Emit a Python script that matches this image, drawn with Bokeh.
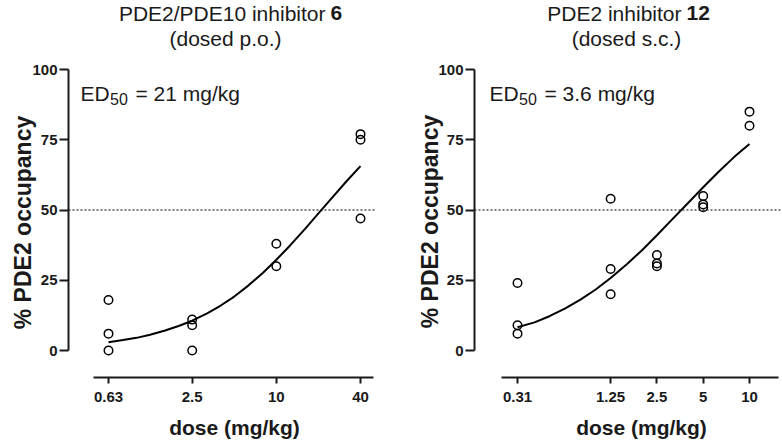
import math
from bokeh.plotting import figure
from bokeh.models import Label, FixedTicker, Range1d
from bokeh.layouts import row
from bokeh.embed import file_html
from bokeh.resources import INLINE

# ---------------- data ----------------
occ_ticks = [0, 25, 50, 75, 100]
half_occupancy = 50

# Left panel: PDE2/PDE10 inhibitor 6 (dosed p.o.)
title1_L = "PDE2/PDE10 inhibitor"
title1_bold_L = "6"
title2_L = "(dosed p.o.)"
ed50_value_L = "= 21 mg/kg"
dose_ticks_L = [0.63, 2.5, 10, 40]
dose_tick_labels_L = ["0.63", "2.5", "10", "40"]
dose_L = [0.63, 0.63, 0.63, 2.5, 2.5, 2.5, 10, 10, 40, 40, 40]
occ_L = [18, 6, 0, 11, 9, 0, 38, 30, 77, 75, 47]
fit_dose_L = [0.63, 0.8, 1.0, 1.25, 1.6, 2.0, 2.5, 3.2, 4.0, 5.0, 6.3, 8.0,
              10, 12.5, 16, 20, 25, 32, 40]
fit_occ_L = [2.9, 3.7, 4.5, 5.6, 7.1, 8.7, 10.6, 13.2, 16.0, 19.2, 23.1, 27.6,
             32.3, 37.3, 43.2, 48.8, 54.3, 60.4, 65.6]

# Right panel: PDE2 inhibitor 12 (dosed s.c.)
title1_R = "PDE2 inhibitor"
title1_bold_R = "12"
title2_R = "(dosed s.c.)"
ed50_value_R = "= 3.6 mg/kg"
dose_ticks_R = [0.31, 1.25, 2.5, 5, 10]
dose_tick_labels_R = ["0.31", "1.25", "2.5", "5", "10"]
dose_R = [0.31, 0.31, 0.31, 1.25, 1.25, 1.25, 2.5, 2.5, 2.5, 5, 5, 5, 10, 10]
occ_R = [24, 9, 6, 54, 29, 20, 34, 31, 30, 55, 52, 51, 85, 80]
fit_dose_R = [0.31, 0.4, 0.5, 0.63, 0.8, 1.0, 1.25, 1.6, 2.0, 2.5, 3.2, 4.0,
              5.0, 6.3, 8.0, 10]
fit_occ_R = [8.3, 10.0, 12.2, 14.9, 18.2, 21.7, 25.8, 30.8, 35.7, 41.0, 47.1, 52.6,
             58.1, 63.6, 69.0, 73.5]

x_label = "dose (mg/kg)"
y_label = "% PDE2 occupancy"

# ---------------- layout / style ----------------
FONT = "Liberation Sans"
INK = "#1a1a1a"
W, H = 391, 440
# vertical pixel design (frame covers the whole figure)
PX_Y100, PX_Y0 = 69.0, 350.0
PX_XAXIS = 377.0


def make_panel(dose, occ, fit_dose, fit_occ, ticks, tick_labels,
               px_anchor, px_yaxis, px_bounds, px_dotted_end,
               t1, t1b, t2, ed_val, pos):
    (pa, va), (pb, vb) = px_anchor
    ppd = (pb - pa) / math.log10(vb / va)

    def X(fx):
        return va * 10 ** ((fx - pa) / ppd)

    ppu = (PX_Y0 - PX_Y100) / 100.0

    def Y(fy):
        return (PX_Y0 - fy) / ppu

    p = figure(width=W, height=H, x_axis_type="log",
               x_range=Range1d(X(0), X(W)), y_range=Range1d(Y(H), Y(0)),
               output_backend="svg", toolbar_location=None,
               min_border=0, min_border_left=0, min_border_right=0,
               min_border_top=0, min_border_bottom=0)
    p.grid.visible = False
    p.outline_line_color = None
    p.background_fill_color = "white"
    p.border_fill_color = "white"

    # x axis (offset below the data, Prism style)
    xa = p.xaxis[0]
    xa.fixed_location = Y(PX_XAXIS)
    xa.ticker = FixedTicker(ticks=ticks)
    xa.major_label_overrides = {t: s for t, s in zip(ticks, tick_labels)}
    xa.bounds = (X(px_bounds[0]), X(px_bounds[1]))
    xa.minor_tick_line_color = None
    xa.major_tick_in = 0
    xa.major_tick_out = 6
    xa.axis_line_width = 2
    xa.axis_line_color = INK
    xa.major_tick_line_width = 2
    xa.major_tick_line_color = INK
    xa.major_label_standoff = 8
    xa.major_label_text_font = FONT
    xa.major_label_text_font_style = "bold"
    xa.major_label_text_font_size = "15px"
    xa.major_label_text_color = INK

    # y axis (0..100 only)
    ya = p.yaxis[0]
    ya.fixed_location = X(px_yaxis)
    ya.ticker = FixedTicker(ticks=occ_ticks)
    ya.bounds = (occ_ticks[0], occ_ticks[-1])
    ya.minor_tick_line_color = None
    ya.major_tick_in = 0
    ya.major_tick_out = 9
    ya.axis_line_width = 2
    ya.axis_line_color = INK
    ya.major_tick_line_width = 2
    ya.major_tick_line_color = INK
    ya.major_label_standoff = 2
    ya.major_label_text_font = FONT
    ya.major_label_text_font_style = "bold"
    ya.major_label_text_font_size = "15px"
    ya.major_label_text_color = INK

    # 50 % reference line
    p.line([X(px_yaxis), X(px_dotted_end)], [half_occupancy, half_occupancy],
           line_color="black", line_width=1, line_dash="2 2")

    # fitted curve and data
    p.line(fit_dose, fit_occ, line_color="black", line_width=2)
    p.scatter(dose, occ, marker="circle", size=8.5, fill_color=None,
              line_color="black", line_width=1.5)

    def lab(fx, fy, text, size, align="left", style="normal",
            baseline="alphabetic", angle=0.0):
        p.add_layout(Label(x=X(fx), y=Y(fy), text=text, text_font=FONT,
                           text_font_size=size, text_font_style=style,
                           text_align=align, text_baseline=baseline,
                           angle=angle, text_color=INK))

    # titles
    lab(pos["t1_end"], 12.5, t1, "21px", align="right")
    lab(pos["t1b_start"], 12.5, t1b, "21px", style="bold")
    lab(pos["t2_center"], 38.0, t2, "21px", align="center")
    # ED50 annotation
    lab(pos["ed"], 93.0, "ED", "21px")
    lab(pos["sub"], 98.5, "50", "16px")
    lab(pos["eq"], 93.0, ed_val, "21px")
    # axis titles
    lab(pos["xl"], 427.0, x_label, "21px", align="center", style="bold")
    lab(pos["yl"][0], pos["yl"][1], y_label, "23px", align="center", style="bold",
        baseline="middle", angle=math.pi / 2)
    return p


left = make_panel(dose_L, occ_L, fit_dose_L, fit_occ_L, dose_ticks_L, dose_tick_labels_L,
                  px_anchor=((108, 0.63), (360, 40)),
                  px_yaxis=68, px_bounds=(93, 373), px_dotted_end=375,
                  t1=title1_L, t1b=title1_bold_L, t2=title2_L, ed_val=ed50_value_L,
                  pos=dict(t1_end=325, t1b_start=330, t2_center=225,
                           ed=80, sub=109.5, eq=135, xl=234, yl=(22.0, 222.0)))

right = make_panel(dose_R, occ_R, fit_dose_R, fit_occ_R, dose_ticks_R, dose_tick_labels_R,
                   px_anchor=((126, 0.31), (358, 10)),
                   px_yaxis=83, px_bounds=(110, 387), px_dotted_end=391,
                   t1=title1_R, t1b=title1_bold_R, t2=title2_R, ed_val=ed50_value_R,
                   pos=dict(t1_end=290, t1b_start=295, t2_center=235,
                            ed=98, sub=127.5, eq=153, xl=250, yl=(38.0, 221.0)))

layout = row(left, right)
open("out.html", "w").write(file_html(layout, INLINE))
